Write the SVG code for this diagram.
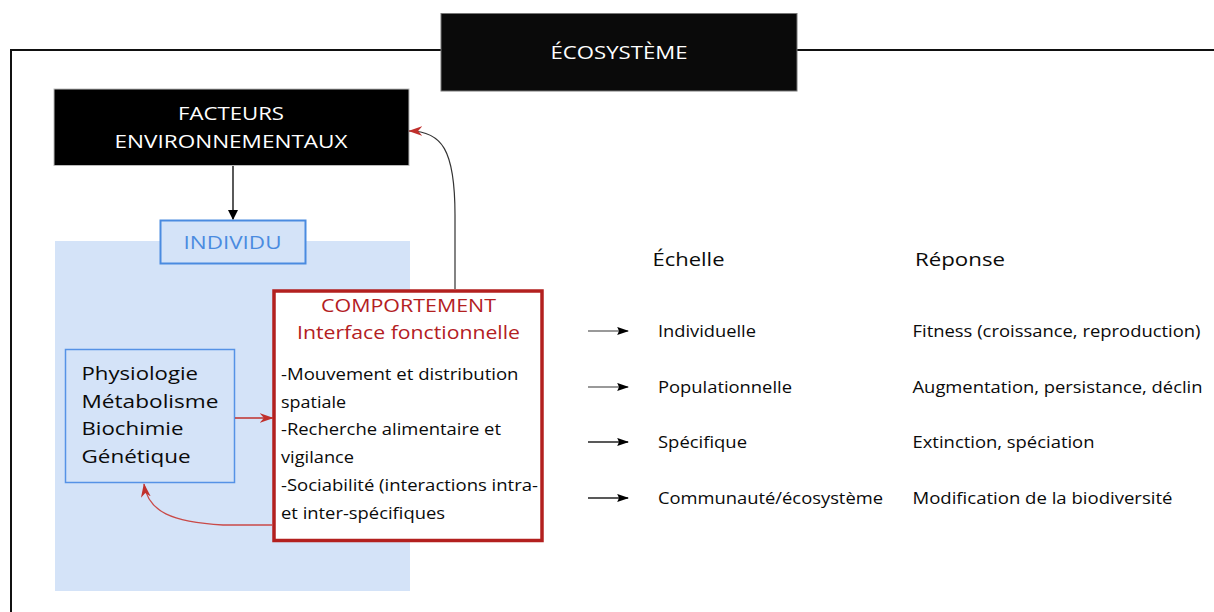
<svg xmlns="http://www.w3.org/2000/svg" width="1214" height="612" viewBox="0 0 1214 612">
<defs>
<style>
text{font-family:"Open Sans","Liberation Sans",sans-serif;}
.w{fill:#ffffff;font-size:18px;text-anchor:middle;}
.red{fill:#b3201f;font-size:19px;text-anchor:middle;}
.body{fill:#0a0a0a;font-size:16.5px;}
.phys{fill:#0a0a0a;font-size:18.5px;}
.hd{fill:#0a0a0a;font-size:17.5px;}
.row{fill:#0a0a0a;font-size:16px;}
</style>
<marker id="ah" viewBox="0 0 10 10" refX="9" refY="5" markerWidth="10" markerHeight="10" markerUnits="userSpaceOnUse" orient="auto"><path d="M0,0 L10,5 L0,10 z" fill="#000"/></marker>
<marker id="ahr" viewBox="0 0 10 10" refX="9.5" refY="5" markerWidth="14" markerHeight="11" markerUnits="userSpaceOnUse" orient="auto" preserveAspectRatio="none"><path d="M0,0.5 L10,5 L0,9.5 L3,5 z" fill="#c0302c"/></marker>
<marker id="ahs" viewBox="0 0 10 10" refX="9" refY="5" markerWidth="12" markerHeight="9" markerUnits="userSpaceOnUse" orient="auto" preserveAspectRatio="none"><path d="M0,0.5 L10,5 L0,9.5 L1.5,5 z" fill="#000"/></marker>
</defs>
<rect width="1214" height="612" fill="#fff"/>
<g id="frame"><path d="M11,612 L11,50 L1214,50" fill="none" stroke="#111" stroke-width="2"/></g>
<g id="individu-bg"><rect x="55" y="241" width="355" height="350" fill="#d4e3f8"/></g>
<g id="ecosysteme"><rect x="441" y="13.5" width="356" height="77.5" fill="#0a0a0a" stroke="#777" stroke-width="1"/><text class="w" x="619" y="59" textLength="137" lengthAdjust="spacingAndGlyphs">ÉCOSYSTÈME</text></g>
<g id="facteurs"><rect x="54" y="89" width="355" height="76.5" fill="#000" stroke="#bbb" stroke-width="1"/><text class="w" x="231" y="120" textLength="106" lengthAdjust="spacingAndGlyphs">FACTEURS</text><text class="w" x="231" y="147.5" textLength="233" lengthAdjust="spacingAndGlyphs">ENVIRONNEMENTAUX</text></g>
<g id="individu"><rect x="160.5" y="220.5" width="145" height="43" fill="#d4e3f8" stroke="#4a8be0" stroke-width="2"/><text x="232.5" y="249" fill="#4a8be0" font-size="18.5" text-anchor="middle" textLength="98" lengthAdjust="spacingAndGlyphs">INDIVIDU</text></g>
<g id="physiologie"><rect x="65.5" y="349.5" width="169" height="133" fill="#d4e3f8" stroke="#5592e6" stroke-width="1.5"/>
<text class="phys" x="81.5" y="379.5" textLength="116.5" lengthAdjust="spacingAndGlyphs">Physiologie</text>
<text class="phys" x="81.5" y="407.5" textLength="137" lengthAdjust="spacingAndGlyphs">Métabolisme</text>
<text class="phys" x="81.5" y="435" textLength="102" lengthAdjust="spacingAndGlyphs">Biochimie</text>
<text class="phys" x="81.5" y="463" textLength="109" lengthAdjust="spacingAndGlyphs">Génétique</text></g>
<g id="comportement"><rect x="274" y="291" width="268" height="249.5" fill="#fff" stroke="#b3201f" stroke-width="3.5"/>
<text class="red" x="408.5" y="311.5" textLength="175" lengthAdjust="spacingAndGlyphs">COMPORTEMENT</text>
<text class="red" x="408.5" y="339" textLength="223" lengthAdjust="spacingAndGlyphs">Interface fonctionnelle</text>
<text class="body" x="281" y="379.5" textLength="237.5" lengthAdjust="spacingAndGlyphs">-Mouvement et distribution</text>
<text class="body" x="281" y="407.5" textLength="65" lengthAdjust="spacingAndGlyphs">spatiale</text>
<text class="body" x="281" y="435" textLength="220" lengthAdjust="spacingAndGlyphs">-Recherche alimentaire et</text>
<text class="body" x="281" y="463" textLength="73" lengthAdjust="spacingAndGlyphs">vigilance</text>
<text class="body" x="281" y="491" textLength="257" lengthAdjust="spacingAndGlyphs">-Sociabilité (interactions intra-</text>
<text class="body" x="281" y="518.5" textLength="164" lengthAdjust="spacingAndGlyphs">et inter-spécifiques</text></g>
<g id="table">
<text class="hd" x="652.5" y="266" textLength="72" lengthAdjust="spacingAndGlyphs">Échelle</text>
<text class="hd" x="915" y="266" textLength="90" lengthAdjust="spacingAndGlyphs">Réponse</text>
<text class="row" x="658" y="337" textLength="98" lengthAdjust="spacingAndGlyphs">Individuelle</text>
<text class="row" x="912.5" y="337" textLength="288" lengthAdjust="spacingAndGlyphs">Fitness (croissance, reproduction)</text>
<text class="row" x="658" y="393" textLength="134" lengthAdjust="spacingAndGlyphs">Populationnelle</text>
<text class="row" x="912.5" y="393" textLength="290" lengthAdjust="spacingAndGlyphs">Augmentation, persistance, déclin</text>
<text class="row" x="658" y="448" textLength="89" lengthAdjust="spacingAndGlyphs">Spécifique</text>
<text class="row" x="912.5" y="448" textLength="182" lengthAdjust="spacingAndGlyphs">Extinction, spéciation</text>
<text class="row" x="658" y="504" textLength="225" lengthAdjust="spacingAndGlyphs">Communauté/écosystème</text>
<text class="row" x="912.5" y="504" textLength="260" lengthAdjust="spacingAndGlyphs">Modification de la biodiversité</text>
</g>
<g id="connectors" fill="none">
<path d="M233,166 L233,219" stroke="#000" stroke-width="1.3" marker-end="url(#ah)"/>
<path d="M235,418 L273,418" stroke="#c0302c" stroke-width="1.3" marker-end="url(#ahr)"/>
<path d="M273,525 L223,525 C172,522 148,512 144,484" stroke="#c94a48" stroke-width="1.3" marker-end="url(#ahr)"/>
<path d="M455,289 L455,215 C455,150 442,131 409,131" stroke="#333" stroke-width="1.2" marker-end="url(#ahr)"/>
<path d="M588,331 L628,331" stroke="#777" stroke-width="1.3" marker-end="url(#ahs)"/>
<path d="M588,387 L628,387" stroke="#777" stroke-width="1.3" marker-end="url(#ahs)"/>
<path d="M588,442 L628,442" stroke="#222" stroke-width="1.3" marker-end="url(#ahs)"/>
<path d="M588,498 L628,498" stroke="#222" stroke-width="1.3" marker-end="url(#ahs)"/>
</g>
</svg>
